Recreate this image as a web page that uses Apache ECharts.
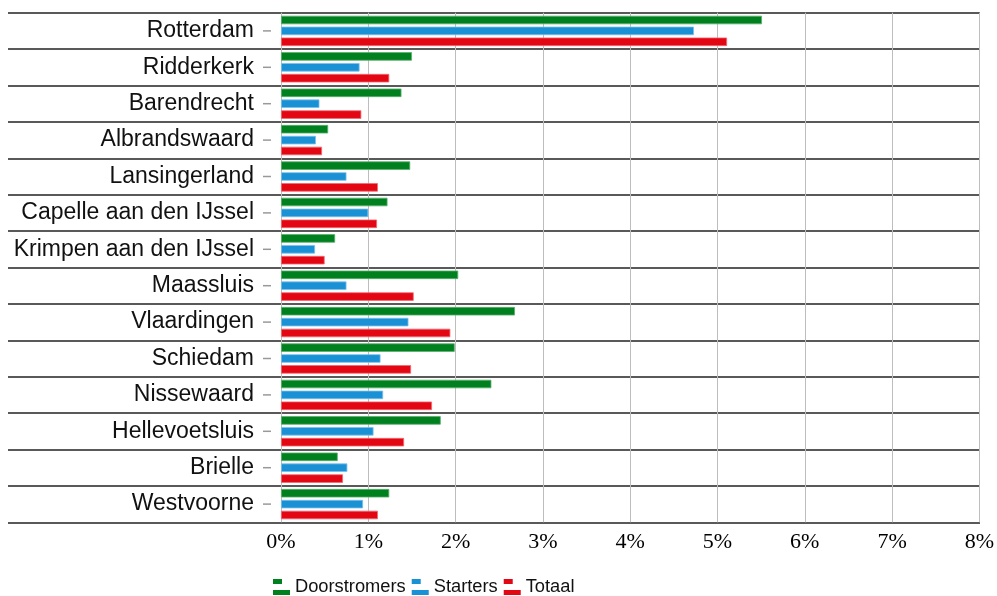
<!DOCTYPE html>
<html>
<head>
<meta charset="utf-8">
<script src="https://cdn.jsdelivr.net/npm/echarts@6/dist/echarts.min.js"></script>
<style>html,body{margin:0;padding:0;background:#fff}#c{width:997px;height:596px}</style>
</head>
<body>
<div id="c"></div>
<script>
const categories = ["Rotterdam","Ridderkerk","Barendrecht","Albrandswaard","Lansingerland","Capelle aan den IJssel","Krimpen aan den IJssel","Maassluis","Vlaardingen","Schiedam","Nissewaard","Hellevoetsluis","Brielle","Westvoorne"];
const doorstromers = [5.51,1.50,1.38,0.54,1.48,1.22,0.62,2.03,2.68,1.99,2.41,1.83,0.65,1.24];
const starters     = [4.73,0.90,0.44,0.40,0.75,1.00,0.39,0.75,1.46,1.14,1.17,1.06,0.76,0.94];
const totaal       = [5.11,1.24,0.92,0.47,1.11,1.10,0.50,1.52,1.94,1.49,1.73,1.41,0.71,1.11];
const seriesNames = ["Doorstromers","Starters","Totaal"];
const xTicks = [0,1,2,3,4,5,6,7,8];

const colors = ["#00801f","#1a90d5","#e30613"];
const borders = ["#5cae6e","#7cc0e8","#f06a72"];
const icon = 'path://M0,0H9V5H0Z M0,11H17V16H0Z';

const chart = echarts.init(document.getElementById('c'), null, {renderer:'canvas'});
const seriesData = [doorstromers, starters, totaal];
chart.setOption({
  animation:false,
  color: colors,
  grid:[
    {left:8, right:17, top:12.7, bottom:73.7},
    {left:281, right:17, top:12.7, bottom:73.7}
  ],
  xAxis:[
    {gridIndex:0, type:'value', min:0, max:8, show:false},
    {gridIndex:1, type:'value', min:xTicks[0], max:xTicks[xTicks.length-1], interval:1,
     axisLine:{show:false}, axisTick:{show:false},
     splitLine:{show:true, lineStyle:{color:'#bdbdbd', width:1}},
     axisLabel:{margin:9, color:'#000', fontFamily:'Liberation Serif', fontSize:22,
       formatter: v => v + '%'}}
  ],
  yAxis:[
    {gridIndex:0, type:'category', data:categories, inverse:true,
     axisLine:{show:false}, axisTick:{show:false}, axisLabel:{show:false},
     splitLine:{show:true, lineStyle:{color:'#222', width:1.6}}},
    {gridIndex:1, type:'category', data:categories, inverse:true,
     axisLine:{show:false}, axisTick:{show:false}, splitLine:{show:false},
     axisLabel:{margin:10, color:'#111', fontFamily:'Liberation Sans', fontSize:23,
       formatter: v => '{n|' + v + '}{t|}',
       rich:{
         n:{fontFamily:'Liberation Sans', fontSize:23, color:'#111', padding:[0,9,0,0]},
         t:{width:8, height:1.5, backgroundColor:'#999', verticalAlign:'middle'}
       }}}
  ],
  legend:{
    bottom:0, left:273, padding:0, itemWidth:17, itemHeight:16, itemGap:6,
    icon: icon,
    itemStyle:{borderWidth:0},
    textStyle:{fontFamily:'Liberation Sans', fontSize:18.3, color:'#111'},
    data: seriesNames
  },
  series: seriesNames.map((n,i)=>({
    name:n, type:'bar', xAxisIndex:1, yAxisIndex:1,
    data: seriesData[i],
    barWidth:8.5, barGap:'28%',
    itemStyle:{color:colors[i], borderColor:borders[i], borderWidth:0.8}
  }))
});
</script>
</body>
</html>
